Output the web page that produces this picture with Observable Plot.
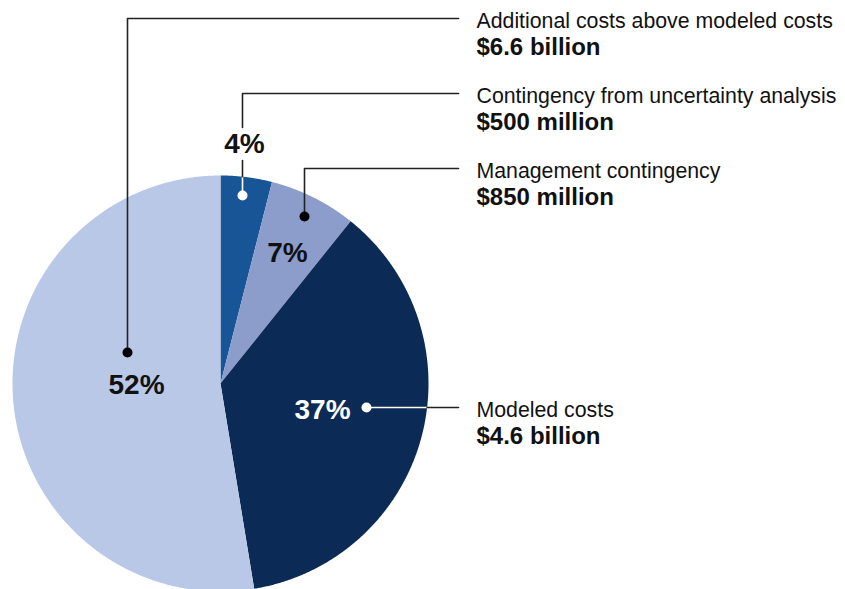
<!DOCTYPE html>
<html>
<head>
<meta charset="utf-8">
<script src="https://cdn.jsdelivr.net/npm/d3@7"></script>
<script src="https://cdn.jsdelivr.net/npm/@observablehq/plot@0.6"></script>
<style>
  html, body { margin: 0; padding: 0; background: #fff; }
  #chart svg { display: block; }
</style>
</head>
<body>
<div id="chart"></div>
<script>
// ---- Data (clockwise from 12 o'clock) ----
const categories = [
  "Contingency from uncertainty analysis",
  "Management contingency",
  "Modeled costs",
  "Additional costs above modeled costs"
];
const valuesBillion = [0.5, 0.85, 4.6, 6.6];
const amountLabels = ["$500 million", "$850 million", "$4.6 billion", "$6.6 billion"];
const percentLabels = ["4%", "7%", "37%", "52%"];
const sliceColors = ["#175597", "#8c9dcb", "#0c2a56", "#b9c8e7"];

// ---- Layout (pixels) ----
const W = 845, H = 589;
const cx = 220, cy = 383, R = 208;
// callout anchors: dot position, elbow y, label line baseline
const dots = [[242, 195], [304, 216], [366, 407], [127, 352]];
const dotFill = ["white", "black", "white", "black"];
const elbowY = [93, 168, 407, 18];
const lineEndX = 458, textX = 476;
const labelBase = [102, 177, 416, 27];
const pctPos = [[244, 144], [287, 253], [322, 410], [136, 385]];
const pctColor = ["#111", "#111", "white", "#111"];

// ---- Pie geometry from data ----
const pie = d3.pie().sort(null).value(d => d)(valuesBillion);
const slices = pie.map((p, i) => {
  const pts = [{x: cx, y: cy}];
  const n = Math.max(2, Math.ceil((p.endAngle - p.startAngle) / 0.005));
  for (let k = 0; k <= n; k++) {
    const a = p.startAngle + (p.endAngle - p.startAngle) * k / n;
    pts.push({x: cx + R * Math.sin(a), y: cy - R * Math.cos(a)});
  }
  pts.push({x: cx, y: cy});
  return {i, pts};
});

// ---- Leader lines ----
function edgeY(x) { return cy - Math.sqrt(R * R - (x - cx) ** 2); }
const leaderMarks = [];
const black = "#222";
// 0: contingency (white inside pie, broken by "4%" label)
{
  const [x, y] = dots[0];
  const ey = edgeY(x);
  leaderMarks.push(Plot.line([{x, y}, {x, y: ey}], {x: "x", y: "y", stroke: "white", strokeWidth: 1.6}));
  leaderMarks.push(Plot.line([{x, y: ey}, {x, y: pctPos[0][1] + 16}], {x: "x", y: "y", stroke: black, strokeWidth: 1.6}));
  leaderMarks.push(Plot.line([{x, y: pctPos[0][1] - 17}, {x, y: elbowY[0]}, {x: lineEndX, y: elbowY[0]}], {x: "x", y: "y", stroke: black, strokeWidth: 1.6}));
}
// 1: management
{
  const [x, y] = dots[1];
  leaderMarks.push(Plot.line([{x, y}, {x, y: elbowY[1]}, {x: lineEndX, y: elbowY[1]}], {x: "x", y: "y", stroke: black, strokeWidth: 1.6}));
}
// 2: modeled (white inside pie)
{
  const [x, y] = dots[2];
  const ex = cx + Math.sqrt(R * R - (y - cy) ** 2);
  leaderMarks.push(Plot.line([{x, y}, {x: ex, y}], {x: "x", y: "y", stroke: "white", strokeWidth: 1.6}));
  leaderMarks.push(Plot.line([{x: ex, y}, {x: lineEndX, y}], {x: "x", y: "y", stroke: black, strokeWidth: 1.6}));
}
// 3: additional
{
  const [x, y] = dots[3];
  leaderMarks.push(Plot.line([{x, y}, {x, y: elbowY[3]}, {x: lineEndX, y: elbowY[3]}], {x: "x", y: "y", stroke: black, strokeWidth: 1.6}));
}

const dotData = dots.map((d, i) => ({x: d[0], y: d[1], fill: dotFill[i]}));
const catData = categories.map((c, i) => ({x: textX, y: labelBase[i], text: c}));
const amtData = amountLabels.map((c, i) => ({x: textX, y: labelBase[i] + 27, text: c}));
const pctData = percentLabels.map((c, i) => ({x: pctPos[i][0], y: pctPos[i][1], text: c, fill: pctColor[i]}));

const chart = Plot.plot({
  width: W,
  height: H,
  margin: 0,
  x: {domain: [0, W], range: [0, W], axis: null},
  y: {domain: [0, H], range: [0, H], axis: null},
  style: {fontFamily: "'Liberation Sans', Arial, sans-serif", background: "white"},
  marks: [
    ...slices.map(s => Plot.line(s.pts, {x: "x", y: "y", fill: sliceColors[s.i], stroke: "none", curve: "linear"})),
    ...leaderMarks,
    Plot.dot(dotData, {x: "x", y: "y", r: 5, fill: d => d.fill, stroke: "none"}),
    Plot.text(pctData, {x: "x", y: "y", text: "text", fill: d => d.fill, fontSize: 28, fontWeight: "bold", textAnchor: "middle", lineAnchor: "middle"}),
    Plot.text(catData, {x: "x", y: "y", text: "text", fill: "#111", fontSize: 21.3, textAnchor: "start", lineAnchor: "bottom"}),
    Plot.text(amtData, {x: "x", y: "y", text: "text", fill: "#111", fontSize: 24, fontWeight: "bold", textAnchor: "start", lineAnchor: "bottom"})
  ]
});
document.getElementById("chart").appendChild(chart);
</script>
</body>
</html>
